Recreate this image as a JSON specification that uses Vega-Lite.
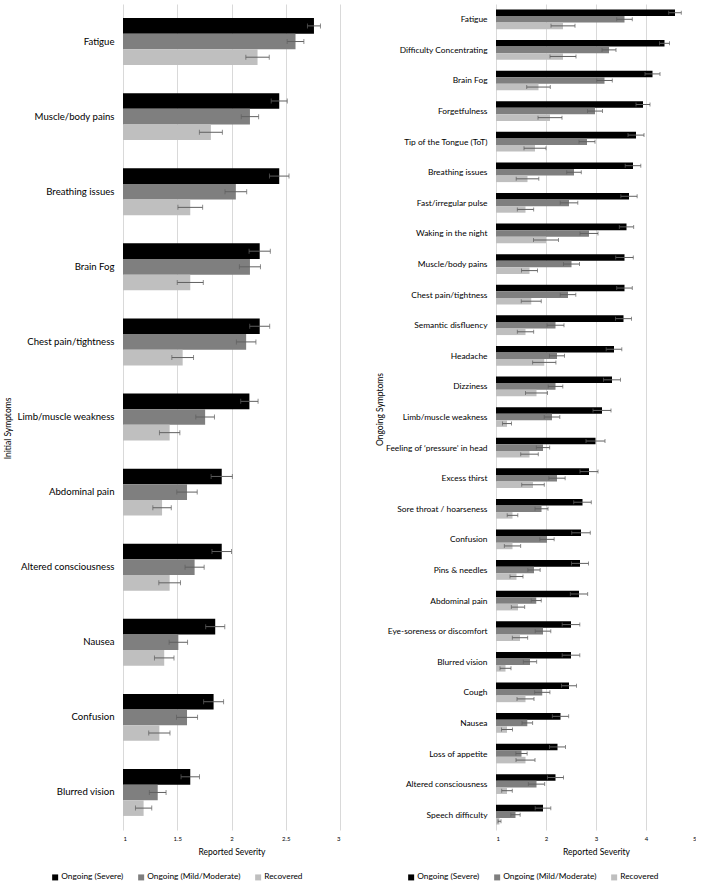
{
  "$schema": "https://vega.github.io/schema/vega-lite/v6.json",
  "padding": {"left": 3, "top": 4, "right": 0, "bottom": 0},
  "background": "white",
  "bounds": "flush",
  "spacing": 156,
  "config": {
    "font": "Lato",
    "view": {"stroke": null},
    "axis": {"labelColor": "#000000", "titleColor": "#000000", "titleFontWeight": "normal"}
  },
  "datasets": {
    "initial": [
      {"symptom": "Fatigue", "group": "Ongoing (Severe)", "mean": 2.76, "lo": 2.70, "hi": 2.82},
      {"symptom": "Fatigue", "group": "Ongoing (Mild/Moderate)", "mean": 2.59, "lo": 2.513, "hi": 2.667},
      {"symptom": "Fatigue", "group": "Recovered", "mean": 2.24, "lo": 2.132, "hi": 2.348},
      {"symptom": "Muscle/body pains", "group": "Ongoing (Severe)", "mean": 2.44, "lo": 2.366, "hi": 2.514},
      {"symptom": "Muscle/body pains", "group": "Ongoing (Mild/Moderate)", "mean": 2.17, "lo": 2.09, "hi": 2.25},
      {"symptom": "Muscle/body pains", "group": "Recovered", "mean": 1.81, "lo": 1.704, "hi": 1.916},
      {"symptom": "Breathing issues", "group": "Ongoing (Severe)", "mean": 2.44, "lo": 2.35, "hi": 2.53},
      {"symptom": "Breathing issues", "group": "Ongoing (Mild/Moderate)", "mean": 2.04, "lo": 1.94, "hi": 2.14},
      {"symptom": "Breathing issues", "group": "Recovered", "mean": 1.62, "lo": 1.506, "hi": 1.734},
      {"symptom": "Brain Fog", "group": "Ongoing (Severe)", "mean": 2.26, "lo": 2.162, "hi": 2.358},
      {"symptom": "Brain Fog", "group": "Ongoing (Mild/Moderate)", "mean": 2.17, "lo": 2.073, "hi": 2.267},
      {"symptom": "Brain Fog", "group": "Recovered", "mean": 1.62, "lo": 1.50, "hi": 1.74},
      {"symptom": "Chest pain/tightness", "group": "Ongoing (Severe)", "mean": 2.26, "lo": 2.168, "hi": 2.352},
      {"symptom": "Chest pain/tightness", "group": "Ongoing (Mild/Moderate)", "mean": 2.135, "lo": 2.045, "hi": 2.225},
      {"symptom": "Chest pain/tightness", "group": "Recovered", "mean": 1.55, "lo": 1.45, "hi": 1.65},
      {"symptom": "Limb/muscle weakness", "group": "Ongoing (Severe)", "mean": 2.165, "lo": 2.085, "hi": 2.245},
      {"symptom": "Limb/muscle weakness", "group": "Ongoing (Mild/Moderate)", "mean": 1.757, "lo": 1.671, "hi": 1.843},
      {"symptom": "Limb/muscle weakness", "group": "Recovered", "mean": 1.43, "lo": 1.336, "hi": 1.524},
      {"symptom": "Abdominal pain", "group": "Ongoing (Severe)", "mean": 1.91, "lo": 1.812, "hi": 2.008},
      {"symptom": "Abdominal pain", "group": "Ongoing (Mild/Moderate)", "mean": 1.59, "lo": 1.496, "hi": 1.684},
      {"symptom": "Abdominal pain", "group": "Recovered", "mean": 1.36, "lo": 1.275, "hi": 1.445},
      {"symptom": "Altered consciousness", "group": "Ongoing (Severe)", "mean": 1.91, "lo": 1.82, "hi": 2.00},
      {"symptom": "Altered consciousness", "group": "Ongoing (Mild/Moderate)", "mean": 1.66, "lo": 1.572, "hi": 1.748},
      {"symptom": "Altered consciousness", "group": "Recovered", "mean": 1.43, "lo": 1.33, "hi": 1.53},
      {"symptom": "Nausea", "group": "Ongoing (Severe)", "mean": 1.85, "lo": 1.762, "hi": 1.938},
      {"symptom": "Nausea", "group": "Ongoing (Mild/Moderate)", "mean": 1.51, "lo": 1.425, "hi": 1.595},
      {"symptom": "Nausea", "group": "Recovered", "mean": 1.38, "lo": 1.29, "hi": 1.47},
      {"symptom": "Confusion", "group": "Ongoing (Severe)", "mean": 1.835, "lo": 1.743, "hi": 1.927},
      {"symptom": "Confusion", "group": "Ongoing (Mild/Moderate)", "mean": 1.59, "lo": 1.493, "hi": 1.687},
      {"symptom": "Confusion", "group": "Recovered", "mean": 1.335, "lo": 1.237, "hi": 1.433},
      {"symptom": "Blurred vision", "group": "Ongoing (Severe)", "mean": 1.62, "lo": 1.535, "hi": 1.705},
      {"symptom": "Blurred vision", "group": "Ongoing (Mild/Moderate)", "mean": 1.32, "lo": 1.243, "hi": 1.397},
      {"symptom": "Blurred vision", "group": "Recovered", "mean": 1.19, "lo": 1.115, "hi": 1.265}
    ],
    "ongoing": [
      {"symptom": "Fatigue", "group": "Ongoing (Severe)", "mean": 4.58, "lo": 4.454, "hi": 4.706},
      {"symptom": "Fatigue", "group": "Ongoing (Mild/Moderate)", "mean": 3.57, "lo": 3.414, "hi": 3.726},
      {"symptom": "Fatigue", "group": "Recovered", "mean": 2.34, "lo": 2.10, "hi": 2.58},
      {"symptom": "Difficulty Concentrating", "group": "Ongoing (Severe)", "mean": 4.37, "lo": 4.27, "hi": 4.47},
      {"symptom": "Difficulty Concentrating", "group": "Ongoing (Mild/Moderate)", "mean": 3.26, "lo": 3.12, "hi": 3.40},
      {"symptom": "Difficulty Concentrating", "group": "Recovered", "mean": 2.34, "lo": 2.08, "hi": 2.60},
      {"symptom": "Brain Fog", "group": "Ongoing (Severe)", "mean": 4.13, "lo": 3.98, "hi": 4.28},
      {"symptom": "Brain Fog", "group": "Ongoing (Mild/Moderate)", "mean": 3.17, "lo": 3.014, "hi": 3.326},
      {"symptom": "Brain Fog", "group": "Recovered", "mean": 1.85, "lo": 1.614, "hi": 2.086},
      {"symptom": "Forgetfulness", "group": "Ongoing (Severe)", "mean": 3.94, "lo": 3.80, "hi": 4.08},
      {"symptom": "Forgetfulness", "group": "Ongoing (Mild/Moderate)", "mean": 2.98, "lo": 2.83, "hi": 3.13},
      {"symptom": "Forgetfulness", "group": "Recovered", "mean": 2.08, "lo": 1.84, "hi": 2.32},
      {"symptom": "Tip of the Tongue (ToT)", "group": "Ongoing (Severe)", "mean": 3.80, "lo": 3.64, "hi": 3.96},
      {"symptom": "Tip of the Tongue (ToT)", "group": "Ongoing (Mild/Moderate)", "mean": 2.82, "lo": 2.66, "hi": 2.98},
      {"symptom": "Tip of the Tongue (ToT)", "group": "Recovered", "mean": 1.78, "lo": 1.56, "hi": 2.00},
      {"symptom": "Breathing issues", "group": "Ongoing (Severe)", "mean": 3.74, "lo": 3.584, "hi": 3.896},
      {"symptom": "Breathing issues", "group": "Ongoing (Mild/Moderate)", "mean": 2.56, "lo": 2.414, "hi": 2.706},
      {"symptom": "Breathing issues", "group": "Recovered", "mean": 1.63, "lo": 1.404, "hi": 1.856},
      {"symptom": "Fast/irregular pulse", "group": "Ongoing (Severe)", "mean": 3.66, "lo": 3.497, "hi": 3.823},
      {"symptom": "Fast/irregular pulse", "group": "Ongoing (Mild/Moderate)", "mean": 2.46, "lo": 2.284, "hi": 2.636},
      {"symptom": "Fast/irregular pulse", "group": "Recovered", "mean": 1.59, "lo": 1.427, "hi": 1.753},
      {"symptom": "Waking in the night", "group": "Ongoing (Severe)", "mean": 3.61, "lo": 3.467, "hi": 3.753},
      {"symptom": "Waking in the night", "group": "Ongoing (Mild/Moderate)", "mean": 2.86, "lo": 2.68, "hi": 3.04},
      {"symptom": "Waking in the night", "group": "Recovered", "mean": 2.00, "lo": 1.75, "hi": 2.25},
      {"symptom": "Muscle/body pains", "group": "Ongoing (Severe)", "mean": 3.57, "lo": 3.394, "hi": 3.746},
      {"symptom": "Muscle/body pains", "group": "Ongoing (Mild/Moderate)", "mean": 2.51, "lo": 2.35, "hi": 2.67},
      {"symptom": "Muscle/body pains", "group": "Recovered", "mean": 1.67, "lo": 1.51, "hi": 1.83},
      {"symptom": "Chest pain/tightness", "group": "Ongoing (Severe)", "mean": 3.57, "lo": 3.414, "hi": 3.726},
      {"symptom": "Chest pain/tightness", "group": "Ongoing (Mild/Moderate)", "mean": 2.44, "lo": 2.284, "hi": 2.596},
      {"symptom": "Chest pain/tightness", "group": "Recovered", "mean": 1.705, "lo": 1.505, "hi": 1.905},
      {"symptom": "Semantic disfluency", "group": "Ongoing (Severe)", "mean": 3.55, "lo": 3.39, "hi": 3.71},
      {"symptom": "Semantic disfluency", "group": "Ongoing (Mild/Moderate)", "mean": 2.19, "lo": 2.02, "hi": 2.36},
      {"symptom": "Semantic disfluency", "group": "Recovered", "mean": 1.59, "lo": 1.427, "hi": 1.753},
      {"symptom": "Headache", "group": "Ongoing (Severe)", "mean": 3.36, "lo": 3.204, "hi": 3.516},
      {"symptom": "Headache", "group": "Ongoing (Mild/Moderate)", "mean": 2.22, "lo": 2.07, "hi": 2.37},
      {"symptom": "Headache", "group": "Recovered", "mean": 1.965, "lo": 1.732, "hi": 2.198},
      {"symptom": "Dizziness", "group": "Ongoing (Severe)", "mean": 3.32, "lo": 3.15, "hi": 3.49},
      {"symptom": "Dizziness", "group": "Ongoing (Mild/Moderate)", "mean": 2.19, "lo": 2.044, "hi": 2.336},
      {"symptom": "Dizziness", "group": "Recovered", "mean": 1.81, "lo": 1.59, "hi": 2.03},
      {"symptom": "Limb/muscle weakness", "group": "Ongoing (Severe)", "mean": 3.12, "lo": 2.94, "hi": 3.30},
      {"symptom": "Limb/muscle weakness", "group": "Ongoing (Mild/Moderate)", "mean": 2.12, "lo": 1.964, "hi": 2.276},
      {"symptom": "Limb/muscle weakness", "group": "Recovered", "mean": 1.22, "lo": 1.13, "hi": 1.31},
      {"symptom": "Feeling of ‘pressure’ in head", "group": "Ongoing (Severe)", "mean": 2.99, "lo": 2.80, "hi": 3.18},
      {"symptom": "Feeling of ‘pressure’ in head", "group": "Ongoing (Mild/Moderate)", "mean": 1.94, "lo": 1.807, "hi": 2.073},
      {"symptom": "Feeling of ‘pressure’ in head", "group": "Recovered", "mean": 1.67, "lo": 1.494, "hi": 1.846},
      {"symptom": "Excess thirst", "group": "Ongoing (Severe)", "mean": 2.86, "lo": 2.68, "hi": 3.04},
      {"symptom": "Excess thirst", "group": "Ongoing (Mild/Moderate)", "mean": 2.22, "lo": 2.057, "hi": 2.383},
      {"symptom": "Excess thirst", "group": "Recovered", "mean": 1.74, "lo": 1.514, "hi": 1.966},
      {"symptom": "Sore throat / hoarseness", "group": "Ongoing (Severe)", "mean": 2.73, "lo": 2.554, "hi": 2.906},
      {"symptom": "Sore throat / hoarseness", "group": "Ongoing (Mild/Moderate)", "mean": 1.91, "lo": 1.78, "hi": 2.04},
      {"symptom": "Sore throat / hoarseness", "group": "Recovered", "mean": 1.33, "lo": 1.224, "hi": 1.436},
      {"symptom": "Confusion", "group": "Ongoing (Severe)", "mean": 2.70, "lo": 2.514, "hi": 2.886},
      {"symptom": "Confusion", "group": "Ongoing (Mild/Moderate)", "mean": 2.02, "lo": 1.877, "hi": 2.163},
      {"symptom": "Confusion", "group": "Recovered", "mean": 1.33, "lo": 1.167, "hi": 1.493},
      {"symptom": "Pins & needles", "group": "Ongoing (Severe)", "mean": 2.68, "lo": 2.51, "hi": 2.85},
      {"symptom": "Pins & needles", "group": "Ongoing (Mild/Moderate)", "mean": 1.76, "lo": 1.637, "hi": 1.883},
      {"symptom": "Pins & needles", "group": "Recovered", "mean": 1.41, "lo": 1.28, "hi": 1.54},
      {"symptom": "Abdominal pain", "group": "Ongoing (Severe)", "mean": 2.66, "lo": 2.487, "hi": 2.833},
      {"symptom": "Abdominal pain", "group": "Ongoing (Mild/Moderate)", "mean": 1.805, "lo": 1.705, "hi": 1.905},
      {"symptom": "Abdominal pain", "group": "Recovered", "mean": 1.44, "lo": 1.307, "hi": 1.573},
      {"symptom": "Eye-soreness or discomfort", "group": "Ongoing (Severe)", "mean": 2.50, "lo": 2.324, "hi": 2.676},
      {"symptom": "Eye-soreness or discomfort", "group": "Ongoing (Mild/Moderate)", "mean": 1.94, "lo": 1.784, "hi": 2.096},
      {"symptom": "Eye-soreness or discomfort", "group": "Recovered", "mean": 1.48, "lo": 1.327, "hi": 1.633},
      {"symptom": "Blurred vision", "group": "Ongoing (Severe)", "mean": 2.50, "lo": 2.324, "hi": 2.676},
      {"symptom": "Blurred vision", "group": "Ongoing (Mild/Moderate)", "mean": 1.68, "lo": 1.547, "hi": 1.813},
      {"symptom": "Blurred vision", "group": "Recovered", "mean": 1.19, "lo": 1.08, "hi": 1.30},
      {"symptom": "Cough", "group": "Ongoing (Severe)", "mean": 2.46, "lo": 2.31, "hi": 2.61},
      {"symptom": "Cough", "group": "Ongoing (Mild/Moderate)", "mean": 1.925, "lo": 1.772, "hi": 2.078},
      {"symptom": "Cough", "group": "Recovered", "mean": 1.59, "lo": 1.42, "hi": 1.76},
      {"symptom": "Nausea", "group": "Ongoing (Severe)", "mean": 2.29, "lo": 2.127, "hi": 2.453},
      {"symptom": "Nausea", "group": "Ongoing (Mild/Moderate)", "mean": 1.626, "lo": 1.52, "hi": 1.732},
      {"symptom": "Nausea", "group": "Recovered", "mean": 1.22, "lo": 1.11, "hi": 1.33},
      {"symptom": "Loss of appetite", "group": "Ongoing (Severe)", "mean": 2.23, "lo": 2.07, "hi": 2.39},
      {"symptom": "Loss of appetite", "group": "Ongoing (Mild/Moderate)", "mean": 1.51, "lo": 1.397, "hi": 1.623},
      {"symptom": "Loss of appetite", "group": "Recovered", "mean": 1.59, "lo": 1.40, "hi": 1.78},
      {"symptom": "Altered consciousness", "group": "Ongoing (Severe)", "mean": 2.19, "lo": 2.03, "hi": 2.35},
      {"symptom": "Altered consciousness", "group": "Ongoing (Mild/Moderate)", "mean": 1.81, "lo": 1.647, "hi": 1.973},
      {"symptom": "Altered consciousness", "group": "Recovered", "mean": 1.22, "lo": 1.114, "hi": 1.326},
      {"symptom": "Speech difficulty", "group": "Ongoing (Severe)", "mean": 1.94, "lo": 1.784, "hi": 2.096},
      {"symptom": "Speech difficulty", "group": "Ongoing (Mild/Moderate)", "mean": 1.39, "lo": 1.297, "hi": 1.483},
      {"symptom": "Speech difficulty", "group": "Recovered", "mean": 1.07, "lo": 1.04, "hi": 1.10}
    ]
  },
  "hconcat": [
    {
      "width": 217,
      "height": 826,
      "data": {"name": "initial"},
      "encoding": {
        "y": {
          "field": "symptom", "type": "nominal", "sort": null,
          "scale": {"paddingInner": 0.375, "paddingOuter": 0.1875},
          "axis": {"title": "Initial Symptoms", "titleX": -111, "titleY": 424, "titleFontSize": 8.5, "labelFontSize": 9.6, "labelPadding": 9, "ticks": false, "domain": false, "labelLimit": 200}
        },
        "yOffset": {"field": "group", "type": "nominal", "sort": ["Ongoing (Severe)", "Ongoing (Mild/Moderate)", "Recovered"], "scale": {"paddingInner": 0, "paddingOuter": 0}}
      },
      "layer": [
        {
          "mark": {"type": "bar"},
          "encoding": {
            "x": {"field": "mean", "type": "quantitative", "title": "Reported Severity",
              "scale": {"domain": [1, 3], "nice": false, "zero": false},
              "axis": {"values": [1, 1.5, 2, 2.5, 3], "format": "~g", "grid": true, "gridColor": "#d9d9d9", "domain": false, "ticks": false, "labelFontSize": 6, "labelPadding": 5, "titleFontSize": 8.5, "titlePadding": 6}},
            "x2": {"datum": 1},
            "color": {"field": "group", "type": "nominal",
              "scale": {"domain": ["Ongoing (Severe)", "Ongoing (Mild/Moderate)", "Recovered"], "range": ["#000000", "#7f7f7f", "#bfbfbf"]},
              "legend": {"orient": "none", "legendX": -72, "legendY": 869, "direction": "horizontal", "title": null, "symbolType": "square", "symbolSize": 36, "symbolStrokeWidth": 0, "labelFontSize": 8.3, "labelOffset": 2, "columnPadding": 13, "padding": 0}}
          }
        },
        {
          "mark": {"type": "rule", "color": "#606060", "strokeWidth": 1},
          "encoding": {"x": {"field": "lo", "type": "quantitative", "title": "Reported Severity"}, "x2": {"field": "hi"}}
        },
        {
          "mark": {"type": "tick", "color": "#606060", "size": 5, "thickness": 1},
          "encoding": {"x": {"field": "lo", "type": "quantitative", "title": "Reported Severity"}}
        },
        {
          "mark": {"type": "tick", "color": "#606060", "size": 5, "thickness": 1},
          "encoding": {"x": {"field": "hi", "type": "quantitative", "title": "Reported Severity"}}
        }
      ]
    },
    {
      "width": 200,
      "height": 826,
      "data": {"name": "ongoing"},
      "encoding": {
        "y": {
          "field": "symptom", "type": "nominal", "sort": null,
          "scale": {"paddingInner": 0.356, "paddingOuter": 0.178},
          "axis": {"title": "Ongoing Symptoms", "titleX": -112, "titleY": 405, "titleFontSize": 8.5, "labelFontSize": 8.4, "labelPadding": 9, "ticks": false, "domain": false, "labelLimit": 200}
        },
        "yOffset": {"field": "group", "type": "nominal", "sort": ["Ongoing (Severe)", "Ongoing (Mild/Moderate)", "Recovered"], "scale": {"paddingInner": 0, "paddingOuter": 0}}
      },
      "layer": [
        {
          "mark": {"type": "bar"},
          "encoding": {
            "x": {"field": "mean", "type": "quantitative", "title": "Reported Severity",
              "scale": {"domain": [1, 5], "nice": false, "zero": false},
              "axis": {"values": [1, 2, 3, 4, 5], "format": "~g", "grid": true, "gridColor": "#d9d9d9", "domain": false, "ticks": false, "labelFontSize": 6, "labelPadding": 5, "titleFontSize": 8.5, "titlePadding": 6}},
            "x2": {"datum": 1},
            "color": {"field": "group", "type": "nominal",
              "scale": {"domain": ["Ongoing (Severe)", "Ongoing (Mild/Moderate)", "Recovered"], "range": ["#000000", "#7f7f7f", "#bfbfbf"]},
              "legend": {"orient": "none", "legendX": -89, "legendY": 869, "direction": "horizontal", "title": null, "symbolType": "square", "symbolSize": 36, "symbolStrokeWidth": 0, "labelFontSize": 8.3, "labelOffset": 2, "columnPadding": 13, "padding": 0}}
          }
        },
        {
          "mark": {"type": "rule", "color": "#606060", "strokeWidth": 1},
          "encoding": {"x": {"field": "lo", "type": "quantitative", "title": "Reported Severity"}, "x2": {"field": "hi"}}
        },
        {
          "mark": {"type": "tick", "color": "#606060", "size": 4, "thickness": 1},
          "encoding": {"x": {"field": "lo", "type": "quantitative", "title": "Reported Severity"}}
        },
        {
          "mark": {"type": "tick", "color": "#606060", "size": 4, "thickness": 1},
          "encoding": {"x": {"field": "hi", "type": "quantitative", "title": "Reported Severity"}}
        }
      ]
    }
  ],
  "resolve": {"scale": {"color": "independent", "yOffset": "independent", "y": "independent", "x": "independent"}, "legend": {"color": "independent"}}
}
